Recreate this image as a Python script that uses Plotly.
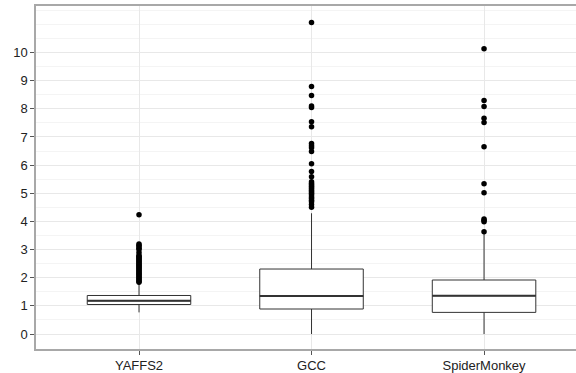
import plotly.graph_objects as go

# ---- data ----
categories = ["YAFFS2", "GCC", "SpiderMonkey"]
q1 = [1.05, 0.89, 0.77]
median = [1.18, 1.35, 1.36]
q3 = [1.37, 2.31, 1.92]
lower_whisker = [0.77, 0.0, 0.0]
upper_whisker = [1.80, 4.29, 3.55]

yaffs2_outliers = [1.84, 1.88, 1.92, 1.96, 2.0, 2.04, 2.08, 2.12, 2.16, 2.2, 2.24, 2.28,
                   2.32, 2.36, 2.4, 2.44, 2.48, 2.52, 2.56, 2.6, 2.64, 2.68, 2.72, 2.76,
                   2.8, 2.9, 3.0, 3.05, 3.1, 3.15, 3.2, 4.24]
gcc_outliers = [4.5, 4.6, 4.7, 4.75, 4.82, 4.88, 4.95, 5.0, 5.05, 5.1, 5.15, 5.2, 5.25,
                5.3, 5.35, 5.41, 5.59, 5.77, 6.05, 6.48, 6.62, 6.69, 6.77, 7.36, 7.54,
                8.05, 8.1, 8.47, 8.79, 11.06]
spidermonkey_outliers = [3.63, 3.99, 4.04, 4.09, 5.02, 5.34, 6.65, 7.51, 7.66, 8.08, 8.29, 10.13]

y_ticks = list(range(0, 11))

fig = go.Figure()

# main boxes
fig.add_trace(go.Box(
    x=categories, q1=q1, median=median, q3=q3,
    lowerfence=lower_whisker, upperfence=upper_whisker,
    width=0.6, whiskerwidth=0,
    fillcolor="white", line=dict(color="#333333", width=1),
    boxpoints=False, showlegend=False, hoverinfo="skip",
))

# thicker median line (collapsed box at the median)
fig.add_trace(go.Box(
    x=categories, q1=median, median=median, q3=median,
    lowerfence=median, upperfence=median,
    width=0.6, whiskerwidth=0,
    fillcolor="rgba(0,0,0,0)", line=dict(color="#333333", width=2),
    boxpoints=False, showlegend=False, hoverinfo="skip",
))

# outliers
out_x = (["YAFFS2"] * len(yaffs2_outliers) + ["GCC"] * len(gcc_outliers)
         + ["SpiderMonkey"] * len(spidermonkey_outliers))
out_y = yaffs2_outliers + gcc_outliers + spidermonkey_outliers
fig.add_trace(go.Scatter(
    x=out_x, y=out_y, mode="markers",
    marker=dict(color="black", size=5.5, line=dict(width=0)),
    showlegend=False, hoverinfo="skip",
))

axis_line = "#a8a8a8"
fig.update_layout(
    width=576, height=373,
    margin=dict(l=36, r=0, t=6, b=24),
    paper_bgcolor="white", plot_bgcolor="white",
    font=dict(family="Liberation Sans, Arial, sans-serif", size=13, color="#222222"),
    xaxis=dict(
        type="category", categoryorder="array", categoryarray=categories,
        range=[-0.597, 2.533],
        showgrid=True, gridcolor="#e8e8e8", gridwidth=1,
        showline=True, linecolor=axis_line, linewidth=1.5, mirror=True,
        ticks="outside", ticklen=4, tickcolor="#555555",
        tickfont=dict(size=13, color="#222222"),
        zeroline=False, automargin=False,
    ),
    yaxis=dict(
        range=[-0.53, 11.65],
        tickmode="array", tickvals=y_ticks,
        showgrid=True, gridcolor="#e8e8e8", gridwidth=1,
        minor=dict(tickmode="linear", tick0=0, dtick=0.5, showgrid=True,
                   gridcolor="#f4f4f4", gridwidth=1),
        showline=True, linecolor=axis_line, linewidth=1.5,
        ticks="outside", ticklen=4, tickcolor="#555555",
        tickfont=dict(size=13, color="#222222"),
        zeroline=False, automargin=False,
    ),
)

fig.write_html("out.html", config={"displayModeBar": False},
               post_script="document.body.style.margin='0';")
